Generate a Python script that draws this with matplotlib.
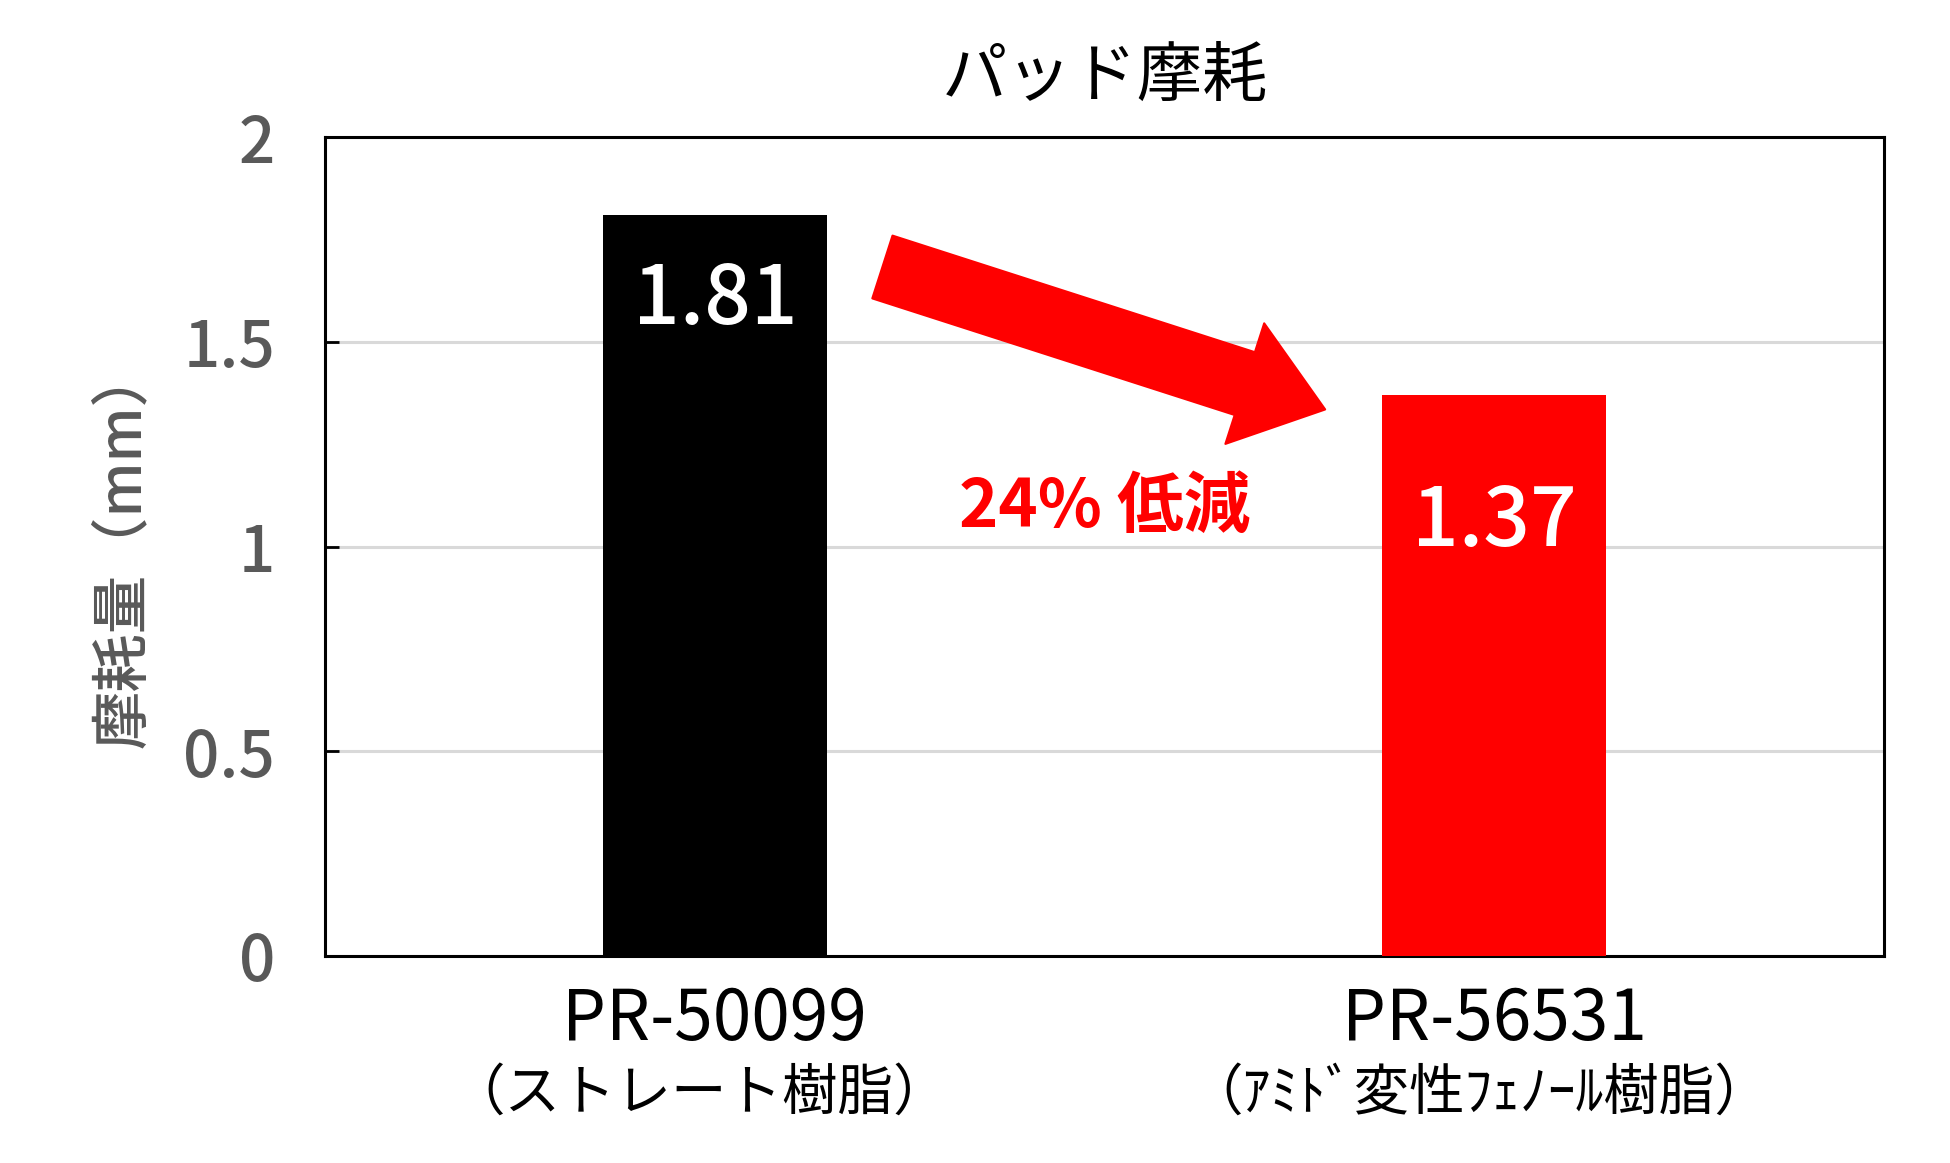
import matplotlib
matplotlib.use("Agg")
import matplotlib.pyplot as plt
from matplotlib.transforms import offset_copy

plt.rcParams["font.family"] = ["Noto Sans CJK JP", "DejaVu Sans"]

# data
products = ["PR-50099", "PR-56531"]
resins = ["（ストレート樹脂）", "（ｱﾐﾄﾞ変性ﾌｪﾉｰﾙ樹脂）"]
wear_mm = [1.81, 1.37]
bar_colors = ["#000000", "#ff0000"]
y_ticks = [0, 0.5, 1, 1.5, 2]
y_tick_labels = ["0", "0.5", "1", "1.5", "2"]
reduction_text = "24% 低減"

fig = plt.figure(figsize=(19.5, 11.63), dpi=100)
ax = fig.add_axes([0.1667, 0.178, 0.7995, 0.704])

x = list(range(len(products)))
ax.bar(x, wear_mm, width=0.287, color=bar_colors, zorder=3)
ax.set_xlim(-0.5, 1.5)
ax.set_ylim(0, 2)

ax.set_yticks(y_ticks)
ax.set_yticklabels(y_tick_labels)
ax.yaxis.grid(True, color="#d9d9d9", linewidth=2.2, zorder=0)
ax.set_axisbelow(True)
ax.tick_params(axis="y", direction="in", length=10, width=2, pad=36,
               labelsize=46, labelcolor="#595959")
for lab in ax.get_yticklabels():
    lab.set_fontweight("medium")
ax.tick_params(axis="x", length=0, labelbottom=False)
for sp in ax.spines.values():
    sp.set_linewidth(2.2)
    sp.set_color("#000000")

ax.set_ylabel("摩耗量（mm）", fontsize=42, color="#595959", fontweight="medium",
              labelpad=22)

ax.set_title("パッド摩耗", fontsize=47, pad=30)

# category labels, two sizes
xform = ax.get_xaxis_transform()
for xi, name, resin in zip(x, products, resins):
    ax.text(xi, 0, name, transform=offset_copy(xform, fig=fig, y=-46, units="points"),
            ha="center", va="center", fontsize=50)
    ax.text(xi - 0.02, 0, resin, transform=offset_copy(xform, fig=fig, y=-99, units="points"),
            ha="center", va="center", fontsize=40)

# value labels inside bars
label_y = [1.60, 1.06]
for xi, v, ly in zip(x, wear_mm, label_y):
    ax.text(xi, ly, f"{v:.2f}", color="white", fontsize=59, fontweight="medium",
            ha="center", va="center", zorder=4)

# reduction arrow
ax.annotate("", xy=(0.783, 1.335), xytext=(0.215, 1.683),
            arrowprops=dict(arrowstyle="simple,head_length=1.6,head_width=2.4,tail_width=1.25",
                            mutation_scale=38, color="#ff0000", linewidth=1.5,
                            joinstyle="round", shrinkA=0, shrinkB=0),
            zorder=5)
ax.text(0.5, 1.095, reduction_text, color="#ff0000", fontsize=48, fontweight="bold",
        ha="center", va="center", zorder=5)

fig.savefig("out.png", dpi=100)
plt.close(fig)
